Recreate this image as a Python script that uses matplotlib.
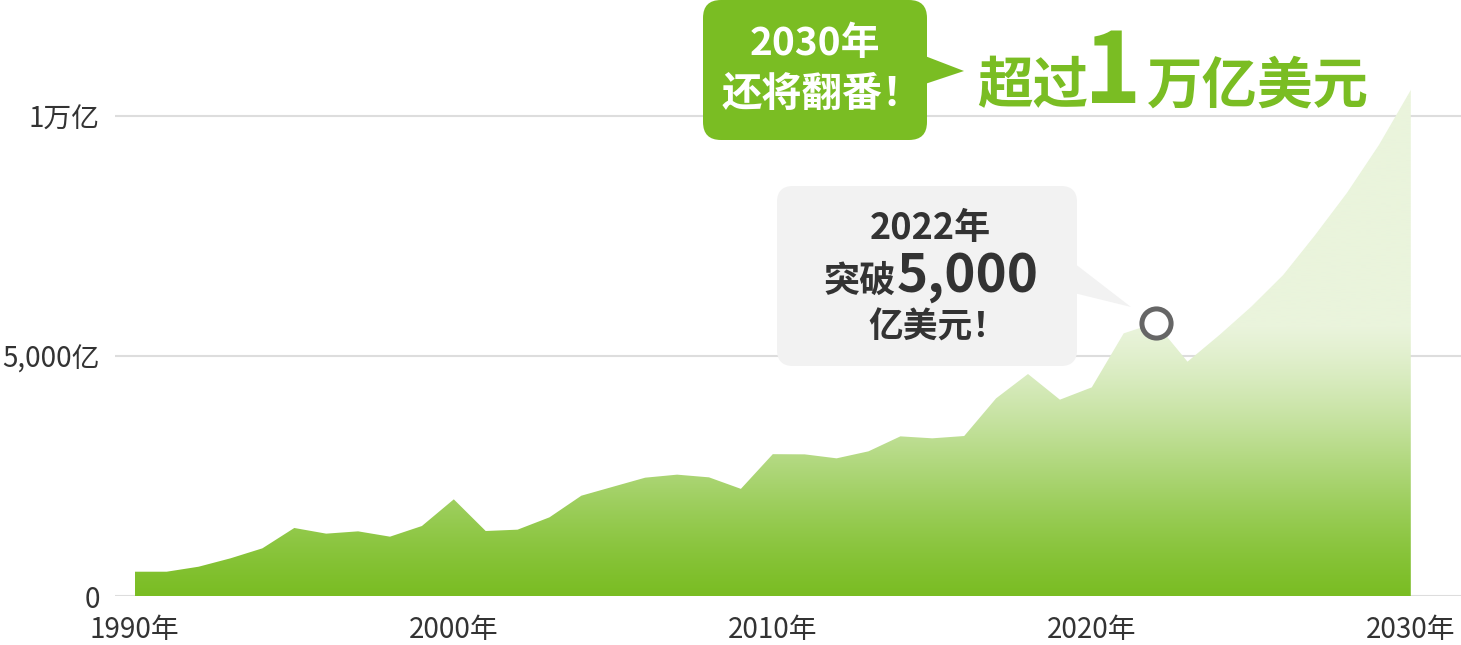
import numpy as np
import matplotlib.pyplot as plt
from matplotlib.patches import FancyBboxPatch, Polygon
from matplotlib.colors import to_rgb

plt.rcParams['font.family'] = ['Noto Sans CJK SC', 'DejaVu Sans']

# 市场规模（亿美元），从图上读出的估计值
years = list(range(1990, 2031))
market = [506, 506, 610, 785, 993, 1417, 1299, 1347, 1236, 1458,
          2014, 1354, 1382, 1639, 2090, 2278, 2465, 2528, 2472, 2232,
          2955, 2951, 2868, 3014, 3326, 3285, 3333, 4118, 4625, 4090,
          4347, 5472, 5690, 4882, 5437, 6028, 6688, 7520, 8400, 9396,
          10542]

x_ticks = [1990, 2000, 2010, 2020, 2030]
x_labels = ['1990年', '2000年', '2010年', '2020年', '2030年']
y_ticks = [0, 5000, 10000]
y_labels = ['0', '5,000亿', '1万亿']
highlight_year = 2022

GREEN = '#7abd23'
PALE = '#eaf4dc'
GREY_BOX = '#f2f2f2'
DARK = '#333333'
W, H = 1461, 645

fig = plt.figure(figsize=(W / 100, H / 100), dpi=100)
ax = fig.add_axes([115 / W, (H - 596) / H, (W - 115) / W, 596 / H])

# gradient area
poly = ax.fill_between(years, market, 0, color='none', lw=0)
ymax = max(market)
vals = np.linspace(0, ymax, 400)
t = np.clip(vals / 5600, 0, 1)
t = t * t * (3 - 2 * t) * 0.35 + t * 0.65
c0 = np.array(to_rgb(GREEN))
c1 = np.array(to_rgb(PALE))
grad = c0[None, :] * (1 - t[:, None]) + c1[None, :] * t[:, None]
img = ax.imshow(grad[:, None, :], extent=[years[0], years[-1], 0, ymax],
                origin='lower', aspect='auto', zorder=2, interpolation='bilinear')
img.set_clip_path(poly.get_paths()[0], transform=ax.transData)

# highlight marker
hv = market[years.index(highlight_year)]
ax.plot([highlight_year], [hv], 'o', ms=21, mfc='white', mec='#666666',
        mew=3.6, zorder=5)

ax.set_xlim(1990 - 19.8 / 31.9, 2030 + 50.2 / 31.9)
ax.set_ylim(0, 596 / 0.048)

ax.set_yticks(y_ticks, y_labels)
ax.set_xticks(x_ticks, x_labels)
ax.grid(axis='y', color='#dddddd', lw=1.5)
ax.grid(axis='x', visible=False)
ax.set_axisbelow(True)
for s in ax.spines.values():
    s.set_visible(False)
ax.tick_params(axis='y', length=0, pad=11, labelsize=20, labelcolor=DARK)
ax.tick_params(axis='x', length=0, pad=14, labelsize=20, labelcolor=DARK)

# overlay in pixel coordinates for the callouts
ov = fig.add_axes([0, 0, 1, 1])
ov.set_xlim(0, W)
ov.set_ylim(H, 0)
ov.axis('off')
ov.patch.set_alpha(0)

# green callout
ov.add_patch(FancyBboxPatch((703, 0), 224, 140,
                            boxstyle='round,pad=0,rounding_size=18',
                            fc=GREEN, ec='none'))
ov.add_patch(Polygon([(925, 56), (964, 71), (925, 84)], closed=True,
                     fc=GREEN, ec='none'))
ov.text(815, 44, '2030年', ha='center', va='center', fontsize=28,
        fontweight='heavy', color='white')
ov.text(822, 95, '还将翻番！', ha='center', va='center', fontsize=29,
        fontweight='heavy', color='white')

ov.text(1088, 103, '超过', ha='right', va='baseline', fontsize=40,
        fontweight='heavy', color=GREEN)
ov.text(1113, 103, '1', ha='center', va='baseline', fontsize=70,
        fontweight='heavy', color=GREEN)
ov.text(1147, 103, '万亿美元', ha='left', va='baseline', fontsize=40,
        fontweight='heavy', color=GREEN)

# grey callout
ov.add_patch(FancyBboxPatch((777, 186), 300, 180,
                            boxstyle='round,pad=0,rounding_size=16',
                            fc=GREY_BOX, ec='none'))
ov.add_patch(Polygon([(1074, 263), (1131, 307), (1074, 293)], closed=True,
                     fc=GREY_BOX, ec='none'))
ov.text(930, 229, '2022年', ha='center', va='center', fontsize=26,
        fontweight='bold', color=DARK)
ov.text(896, 292, '突破', ha='right', va='baseline', fontsize=26,
        fontweight='bold', color=DARK)
ov.text(897, 292, '5,000', ha='left', va='baseline', fontsize=38,
        fontweight='bold', color=DARK)
ov.text(938, 327, '亿美元！', ha='center', va='center', fontsize=25,
        fontweight='bold', color=DARK)

fig.savefig('out.png', dpi=100)
